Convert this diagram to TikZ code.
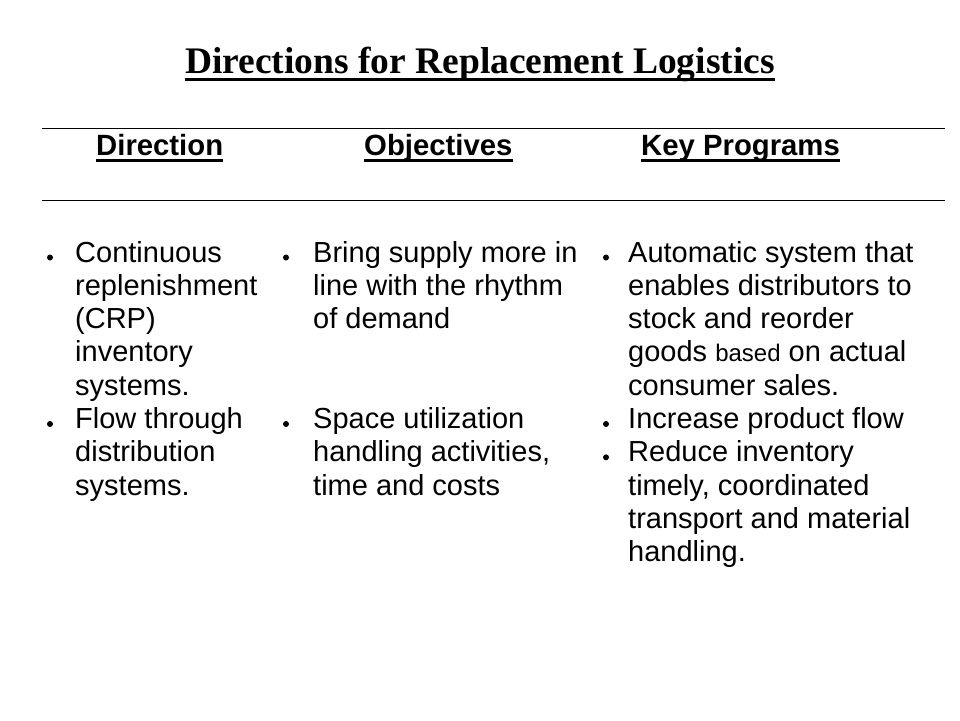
\documentclass[tikz,border=0pt]{standalone}
\usepackage{fontspec}
\setmainfont{Liberation Serif}
\newfontfamily\arialf{Liberation Sans}
\usetikzlibrary{calc}
\tikzset{
  titletext/.style={font=\fontsize{37.5}{40}\selectfont\bfseries, inner sep=0pt, anchor=base},
  headtext/.style={font=\arialf\fontsize{29.3}{32}\selectfont\bfseries, inner sep=0pt, anchor=base west},
  bodytext/.style={font=\arialf\fontsize{29}{33.3}\selectfont, inner sep=0pt, anchor=base west},
  dotmark/.style={circle, fill=black, inner sep=0pt, minimum size=6pt},
  rule/.style={line width=1pt},
  uline/.style={line width=3pt}
}
\begin{document}
\begin{tikzpicture}[x=1pt,y=-1pt]
\useasboundingbox (0,0) rectangle (960,720);
% title
\node[titletext] (title) at (480,73) {Directions for Replacement Logistics};
\draw[uline] ($(title.base west)+(0,6)$) -- ($(title.base east)+(0,6)$);
% rules
\coordinate (r1a) at (42,128); \coordinate (r1b) at (945,128);
\coordinate (r2a) at (42,200); \coordinate (r2b) at (945,200);
\draw[rule] (r1a) -- (r1b);
\draw[rule] (r2a) -- (r2b);
% headers
\node[headtext] (h1) at (96,155) {Direction};
\node[headtext] (h2) at (364,155) {Objectives};
\node[headtext] (h3) at (641,155) {Key Programs};
\foreach \h in {h1,h2,h3}{
  \draw[uline] ($(\h.base west)+(0,5)$) -- ($(\h.base east)+(0,5)$);
}
% column 1
\node[dotmark] (d1a) at (50,257.5) {};
\node[bodytext] (c1l0) at (75,262) {Continuous};
\node[bodytext] (c1l1) at (75,295.3) {replenishment};
\node[bodytext] (c1l2) at (75,328.6) {(CRP)};
\node[bodytext] (c1l3) at (75,361.9) {inventory};
\node[bodytext] (c1l4) at (75,395.2) {systems.};
\node[dotmark] (d1b) at (50,424) {};
\node[bodytext] (c1l5) at (75,428.5) {Flow through};
\node[bodytext] (c1l6) at (75,461.8) {distribution};
\node[bodytext] (c1l7) at (75,495.1) {systems.};
% column 2
\node[dotmark] (d2a) at (286,257.5) {};
\node[bodytext] (c2l0) at (313,262) {Bring supply more in};
\node[bodytext] (c2l1) at (313,295.3) {line with the rhythm};
\node[bodytext] (c2l2) at (313,328.6) {of demand};
\node[dotmark] (d2b) at (286,424) {};
\node[bodytext] (c2l5) at (313,428.5) {Space utilization};
\node[bodytext] (c2l6) at (313,461.8) {handling activities,};
\node[bodytext] (c2l7) at (313,495.1) {time and costs};
% column 3
\node[dotmark] (d3a) at (606,257.5) {};
\node[bodytext] (c3l0) at (628,262) {Automatic system that};
\node[bodytext] (c3l1) at (628,295.3) {enables distributors to};
\node[bodytext] (c3l2) at (628,328.6) {stock and reorder};
\node[bodytext] (c3l3) at (628,361.9) {goods {\fontsize{24}{28}\selectfont based} on actual};
\node[bodytext] (c3l4) at (628,395.2) {consumer sales.};
\node[dotmark] (d3b) at (606,424) {};
\node[bodytext] (c3l5) at (628,428.5) {Increase product flow};
\node[dotmark] (d3c) at (606,457.3) {};
\node[bodytext] (c3l6) at (628,461.8) {Reduce inventory};
\node[bodytext] (c3l7) at (628,495.1) {timely, coordinated};
\node[bodytext] (c3l8) at (628,528.4) {transport and material};
\node[bodytext] (c3l9) at (628,561.7) {handling.};
\end{tikzpicture}
\end{document}
